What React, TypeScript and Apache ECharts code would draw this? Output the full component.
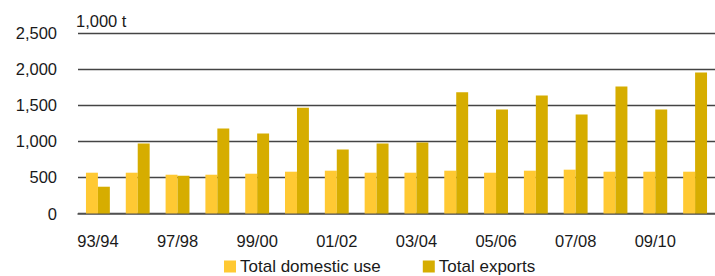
import React, { useEffect, useRef } from "react";
import * as echarts from "echarts";

const categories = [
  "93/94", "96/97", "97/98", "98/99", "99/00", "00/01", "01/02", "02/03",
  "03/04", "04/05", "05/06", "06/07", "07/08", "08/09", "09/10", "10/11",
];
const domesticUse = [565, 565, 537, 537, 551, 579, 593, 565, 565, 593, 565, 593, 607, 579, 579, 579];
const exportsTotal = [371, 968, 523, 1176, 1107, 1465, 885, 968, 982, 1678, 1440, 1635, 1371, 1760, 1440, 1954];
const yTicks = { min: 0, max: 2500, interval: 500 };
const unitLabel = "1,000 t";

const FONT = "Liberation Sans, Arial, sans-serif";
const TEXT = "#1a1a1a";

export default function App() {
  const ref = useRef<HTMLDivElement>(null);
  useEffect(() => {
    if (!ref.current) return;
    const chart = echarts.init(ref.current, undefined, { renderer: "svg" });
    chart.setOption({
      animation: false,
      textStyle: { fontFamily: FONT },
      grid: { left: 78, top: 33, width: 642, height: 180.5, containLabel: false },
      legend: {
        top: 258,
        left: 224,
        padding: 0,
        itemWidth: 12,
        itemHeight: 12,
        itemGap: 42,
        icon: "rect",
        textStyle: { fontFamily: FONT, fontSize: 17, color: TEXT, padding: [0, 0, 0, -1] },
        data: ["Total domestic use", "Total exports"],
      },
      graphic: [
        {
          type: "text",
          left: 76,
          top: 12,
          style: { text: unitLabel, font: `16.5px ${FONT}`, fill: TEXT },
        },
      ],
      xAxis: {
        type: "category",
        data: categories,
        axisLine: { lineStyle: { color: "#555", width: 1.5 } },
        axisTick: { inside: true, length: 5, interval: 0, lineStyle: { color: "#333" } },
        axisLabel: { interval: 1, margin: 19, fontFamily: FONT, fontSize: 16.5, color: TEXT },
      },
      yAxis: {
        type: "value",
        min: yTicks.min,
        max: yTicks.max,
        interval: yTicks.interval,
        axisLine: { show: false },
        axisTick: { show: false },
        splitLine: { lineStyle: { color: "#444", width: 1.3 } },
        axisLabel: {
          margin: 21,
          fontFamily: FONT,
          fontSize: 16.5,
          color: TEXT,
          formatter: (v: number) => v.toLocaleString("en-US"),
        },
      },
      series: [
        {
          name: "Total domestic use",
          type: "bar",
          data: domesticUse,
          barGap: "0%",
          barCategoryGap: "40%",
          itemStyle: { color: "#FFC933" },
        },
        {
          name: "Total exports",
          type: "bar",
          data: exportsTotal,
          barGap: "0%",
          barCategoryGap: "40%",
          itemStyle: { color: "#D6AD00" },
        },
      ],
    });
    return () => chart.dispose();
  }, []);
  return (
    <div
      ref={ref}
      style={{ position: "absolute", left: 0, top: 0, width: 715, height: 276 }}
    />
  );
}
